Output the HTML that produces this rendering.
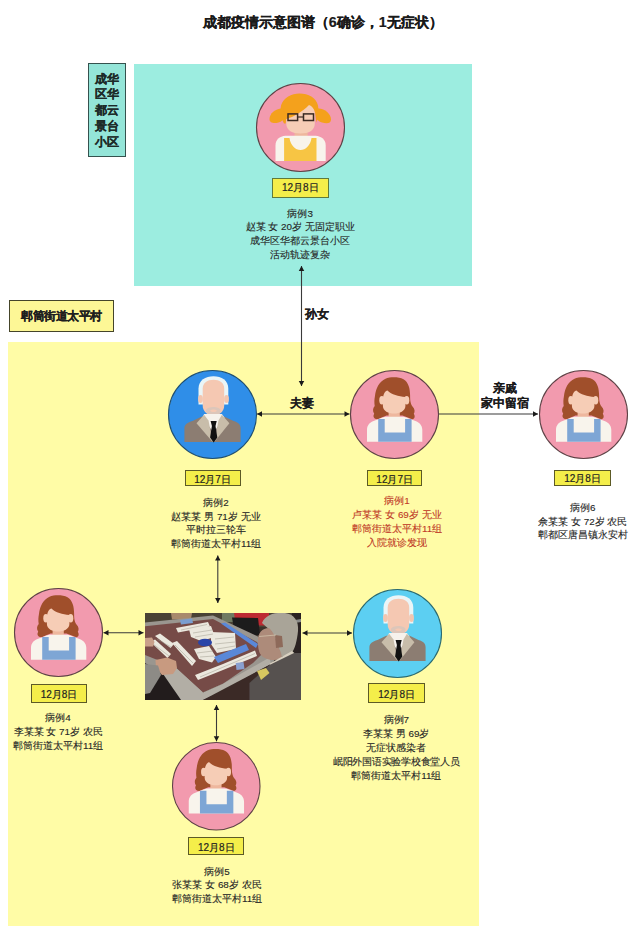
<!DOCTYPE html>
<html><head><meta charset="utf-8"><style>
html,body{margin:0;padding:0;background:#fff;}
body{width:640px;height:928px;position:relative;overflow:hidden;font-family:"Liberation Sans",sans-serif;}
div,svg{position:absolute;}
.title{left:0;top:13px;width:640px;text-align:center;font-size:14.2px;font-weight:bold;-webkit-text-stroke:0.2px #1a1a1a;line-height:18px;color:#1a1a1a;white-space:nowrap;padding-left:5.5px;box-sizing:border-box;}
.teal{left:134px;top:64px;width:338px;height:222px;background:#9cede0;}
.lab1{left:88px;top:63px;width:36px;height:92px;background:#94e5d8;border:1px solid #35524e;font-size:12px;font-weight:bold;line-height:15.8px;text-align:center;color:#1c2a28;box-sizing:content-box;padding-top:7.5px;height:84.5px;-webkit-text-stroke:0.2px #1c2a28;}
.lab2{left:8.5px;top:300px;width:103px;height:30px;background:#fdf796;border:1px solid #45452a;font-size:12px;letter-spacing:-0.5px;padding-left:0.5px;box-sizing:border-box;width:105px;height:32px;font-weight:bold;-webkit-text-stroke:0.2px #1e1e1e;line-height:30px;text-align:center;color:#1e1e1e;}
.yel{left:8px;top:342px;width:471px;height:584px;background:#fffca6;}
.ar{left:0;top:0;}
.av{}
.db{box-sizing:border-box;border:1px solid;font-size:10px;text-align:center;color:#222;white-space:nowrap;-webkit-text-stroke:0.2px #222;}
.tl{text-align:center;white-space:nowrap;}
.lk{-webkit-text-stroke:0.12px #1a1a1a;font-size:12px;font-weight:bold;line-height:14px;color:#1a1a1a;white-space:nowrap;}
</style></head>
<body>

<svg width="0" height="0" style="position:absolute">
<defs>
 <symbol id="woman" overflow="visible">
  <path d="M-8,1 L-17,4.8 C-21,4.5 -21.8,1.5 -20.3,-0.8 C-22,-3 -21.8,-6.5 -19.8,-8.5 C-20.3,-12 -20.2,-15 -19.6,-18 C-18.6,-27 -15,-33 -9,-35.8 C-4,-37.8 4,-37.8 9,-35.3 C14,-32.3 15.6,-26 15.6,-19 C15.6,-13 16.2,-10.5 18.2,-7.8 C20.5,-5.5 20.5,-2.5 19.3,-0.8 C20.8,1.5 20.3,4.3 17.8,4.8 L8,1 Z" fill="#a04f2b"/>
  <rect x="-5.9" y="-5" width="11.2" height="8" fill="#eeb79e"/>
  <ellipse cx="-12.6" cy="-14.3" rx="2.6" ry="4.2" fill="#f6cdb6"/>
  <ellipse cx="12.2" cy="-14.3" rx="2.6" ry="4.2" fill="#f6cdb6"/>
  <path d="M-11.6,-15 C-11.3,-20.5 -9.3,-24 -7,-24 C-3,-20 4,-18 10.9,-17.5 L10.9,-8.5 C10.9,-3.5 5,-1 -0.4,-1 C-6,-1 -11.6,-3.5 -11.6,-8.5 Z" fill="#f6cdb6"/>
  <path d="M-27.5,27.2 L-27.5,15.5 C-27.5,10.5 -24.5,7.5 -19,5.8 C-14,4 -10.5,2.3 -8,2.3 L8,2.3 C10.5,2.3 14,4 19,5.8 C24.5,7.5 27.8,10.5 27.8,15.5 L27.8,27.2 Z" fill="#f8f4ec"/>
  <path d="M-16.3,27.2 L-16.3,4.6 L-9.8,4.6 L-9.8,17.9 L10.6,17.9 L10.6,4.6 L17.1,4.6 L17.1,27.2 Z" fill="#7ea6d5"/>
 </symbol>
 <symbol id="man" overflow="visible">
  <path d="M-14,-10 L-14,-26 C-14,-34 -7,-38.2 1,-38.2 C9,-38.2 15.8,-34 15.8,-26 L15.8,-10 Z" fill="#eaf5f7"/>
  <ellipse cx="-12" cy="-15.6" rx="2.4" ry="4" fill="#f3c6b0"/>
  <ellipse cx="14" cy="-15.6" rx="2.4" ry="4" fill="#f3c6b0"/>
  <path d="M-9.8,-26 C-9.8,-32 -5,-34.8 1,-34.8 C7,-34.8 11.7,-32 11.7,-26 L11.7,-9 C11.7,-3 7,0.8 1,0.8 C-5,0.8 -9.8,-3 -9.8,-9 Z" fill="#f5c8b2"/>
  <path d="M-6.6,-4.5 C-5,-8.5 7,-8.5 8,-4.5 C8,0 4.5,1.8 1,1.8 C-3,1.8 -6.6,0 -6.6,-4.5 Z" fill="#dcc6ba"/>
  <path d="M-2.5,-4 C-1,-5.5 3,-5.5 4.5,-4 C3,-2 -1,-2 -2.5,-4 Z" fill="#f5c8b2"/>
  <path d="M-28.1,27.6 L-28.1,14 C-28.1,10 -25,8 -20,6.5 L-11.25,2.2 L12.2,2.2 L21,6.5 C26,8 28.1,10 28.1,14 L28.1,27.6 Z" fill="#8c7d72"/>
  <path d="M-8.4,-0.6 L9.4,-0.6 L12,3 L1,18 L-10,3 Z" fill="#f6f2ec"/>
  <path d="M-8.4,0.3 L-16,8.75 L0.2,27.6 L-4,6 Z" fill="#c8bdaa"/>
  <path d="M9.4,0.3 L16.9,8.75 L1.8,27.6 L6,6 Z" fill="#c8bdaa"/>
  <path d="M-1.9,6.4 L4.2,6.4 L3,11.6 L4.8,23 L1.2,28 L-2.4,23 L-0.6,11.6 Z" fill="#111"/>
 </symbol>
 <symbol id="girl" overflow="visible">
  <path d="M-6,2 L7.2,2 L7.2,12 L-6,12 Z" fill="#eeb79e"/>
  <path d="M-14.2,-14 C-14.2,-24 -8,-27 0,-27 C8,-27 14.3,-24 14.3,-14 L14.3,-4 C14.3,3 8,6 0,6 C-8,6 -14.2,3 -14.2,-4 Z" fill="#f6cdb6"/>
  <path d="M-16.5,-4 C-20,-10 -21,-16 -19.5,-22 C-17,-30 -9,-34 -1,-34 C8,-34 15.5,-30 17.5,-22 C18.5,-17 18,-10 16,-5 L14.5,-15 C13.5,-19 11.5,-21.5 8.5,-22.5 C2,-16 -7,-10.5 -14.3,-8.5 L-14.8,-4 Z" fill="#f4a11c"/>
  <path d="M-17,-19 C-24,-20 -31,-14.5 -31,-8.5 C-31,-4 -26,-4 -22,-5 C-19,-6 -17,-7.5 -15.5,-10 Z" fill="#f4a11c"/>
  <path d="M16.5,-19 C23.5,-20 30.5,-14 30.5,-8 C30.5,-3.5 25.5,-4 21.5,-5 C18.5,-6 16.5,-7.5 15.5,-10 Z" fill="#f4a11c"/>
  <rect x="-12.5" y="-13.6" width="9.6" height="6.6" fill="none" stroke="#3a2a22" stroke-width="1.5"/>
  <rect x="3" y="-13.6" width="10" height="6.6" fill="none" stroke="#3a2a22" stroke-width="1.5"/>
  <path d="M-3,-10.5 L3,-10.5" stroke="#3a2a22" stroke-width="1.2"/>
  <path d="M-25,33.5 L-25,18 C-25,12 -21,9 -15,8.3 L15,8.3 C21,9 25.2,12 25.2,18 L25.2,33.5 Z" fill="#f8f4ec"/>
  <path d="M-16.4,33.5 L-16.4,10.5 L-11,10.5 C-10,18 -5,22.5 0,22.5 C5,22.5 10,18 11,10.5 L16,10.5 L16,33.5 Z" fill="#f7c544"/>
 </symbol>
</defs>
</svg>

<div class="title">成都疫情示意图谱（6确诊，1无症状）</div><div class="teal"></div><div class="lab1">成华<br>区华<br>都云<br>景台<br>小区</div><div class="lab2">郫筒街道太平村</div><div class="yel"></div><svg class="ar" width="640" height="928" viewBox="0 0 640 928"><line x1="301.5" y1="266" x2="301.5" y2="386" stroke="#3a3a3a" stroke-width="1.1"/><polygon points="301.5,266 298.75,271 304.25,271" fill="#1a1a1a"/><polygon points="301.5,386 298.75,381 304.25,381" fill="#1a1a1a"/><line x1="257" y1="414" x2="349.5" y2="414" stroke="#3a3a3a" stroke-width="1.1"/><polygon points="257,414 262,411.25 262,416.75" fill="#1a1a1a"/><polygon points="349.5,414 344.5,411.25 344.5,416.75" fill="#1a1a1a"/><line x1="438" y1="414" x2="538" y2="414" stroke="#3a3a3a" stroke-width="1.1"/><polygon points="538,414 533,411.25 533,416.75" fill="#1a1a1a"/><line x1="217.8" y1="555.6" x2="217.8" y2="603" stroke="#3a3a3a" stroke-width="1.1"/><polygon points="217.8,555.6 215.05,560.6 220.55,560.6" fill="#1a1a1a"/><polygon points="217.8,603 215.05,598 220.55,598" fill="#1a1a1a"/><line x1="103.5" y1="632.7" x2="143.5" y2="632.7" stroke="#3a3a3a" stroke-width="1.1"/><polygon points="103.5,632.7 108.5,629.95 108.5,635.45" fill="#1a1a1a"/><polygon points="143.5,632.7 138.5,629.95 138.5,635.45" fill="#1a1a1a"/><line x1="302.5" y1="633" x2="352" y2="633" stroke="#3a3a3a" stroke-width="1.1"/><polygon points="302.5,633 307.5,630.25 307.5,635.75" fill="#1a1a1a"/><polygon points="352,633 347,630.25 347,635.75" fill="#1a1a1a"/><line x1="216.5" y1="705" x2="216.5" y2="741.3" stroke="#3a3a3a" stroke-width="1.1"/><polygon points="216.5,705 213.75,710 219.25,710" fill="#1a1a1a"/><polygon points="216.5,741.3 213.75,736.3 219.25,736.3" fill="#1a1a1a"/></svg><svg class="av" style="left:255.0px;top:81.5px" width="91" height="91" viewBox="-45.5 -45.5 91 91"><circle cx="0" cy="0" r="44.0" fill="#f29aae" stroke="#5e4246" stroke-width="1.1"/><use href="#girl"/></svg><svg class="av" style="left:166.7px;top:368.5px" width="91" height="91" viewBox="-45.5 -45.5 91 91"><circle cx="0" cy="0" r="44.0" fill="#2f8ee8" stroke="#1f4f70" stroke-width="1.1"/><use href="#man"/></svg><svg class="av" style="left:348.5px;top:368.5px" width="91" height="91" viewBox="-45.5 -45.5 91 91"><circle cx="0" cy="0" r="44.0" fill="#f29aae" stroke="#5e4246" stroke-width="1.1"/><use href="#woman"/></svg><svg class="av" style="left:537.8px;top:368.5px" width="91" height="91" viewBox="-45.5 -45.5 91 91"><circle cx="0" cy="0" r="44.0" fill="#f29aae" stroke="#5e4246" stroke-width="1.1"/><use href="#woman"/></svg><svg class="av" style="left:13.0px;top:587.0px" width="91" height="91" viewBox="-45.5 -45.5 91 91"><circle cx="0" cy="0" r="44.0" fill="#f29aae" stroke="#5e4246" stroke-width="1.1"/><use href="#woman"/></svg><svg class="av" style="left:351.5px;top:587.5px" width="91" height="91" viewBox="-45.5 -45.5 91 91"><circle cx="0" cy="0" r="44.0" fill="#5ccff2" stroke="#2a6a70" stroke-width="1.1"/><use href="#man"/></svg><svg class="av" style="left:171.25px;top:740.75px" width="90.5" height="90.5" viewBox="-45.25 -45.25 90.5 90.5"><circle cx="0" cy="0" r="43.75" fill="#f29aae" stroke="#5e4246" stroke-width="1.1"/><use href="#woman"/></svg>
<svg class="ph" style="left:145px;top:613px" width="156" height="87" viewBox="0 0 156 87">
 <defs><filter id="bl" x="0" y="0" width="1" height="1"><feGaussianBlur stdDeviation="0.6"/></filter></defs>
 <rect width="156" height="87" fill="#3a302a"/>
 <g filter="url(#bl)">
 <rect width="156" height="87" fill="#3a302a"/>
 <rect width="156" height="14" fill="#4a4336"/>
 <path d="M77,0 L90,0 L90,9 L77,9 Z" fill="#6f7a62"/>
 <path d="M26,0 L47,0 L46,6 L27,6.5 Z" fill="#a88a6c"/>
 <path d="M89,0 L124,0 L124,12.5 L91,12.5 Z" fill="#bd2a30"/>
 <path d="M87,4.5 L113,5 L115,22 L90,22 Z" fill="#1f1b1b"/>
 <path d="M0,9.5 L68,2.5 L116,25 L132,40 L128,50 L40,87 L33,87 L17,60 L0,50 Z" fill="#9a968f"/>
 <path d="M0,13.3 L68,6 L112,29 L118,40 L108,50 L78,70.8 L58,79.5 L29,53 L10,46 L0,42 Z" fill="#764c47"/>
 <path d="M17,59.5 L29,53 L58,79.5 L78,70.8 L124.5,44.5 L126,51 L78,78 L58,87 L36,87 Z" fill="#b2aea5"/>
 <path d="M0,57 L17,59.5 L36,87 L0,87 Z" fill="#231f1e"/>
 <path d="M58,87 L126,51 L128,87 Z" fill="#3a2c28"/>
 <g fill="#ebe8de">
  <path d="M31,15 L63,9 L65,13.5 L33,19.5 Z"/>
  <path d="M44,16 L66,13 L70,24 L56,28 L46,24 Z"/>
  <path d="M66,19 L90,20 L91,36 L72,40 L66,31 Z"/>
  <path d="M10,23 L15,20.5 L29,31 L25.5,35 Z"/>
  <path d="M5.5,29 L10,26.5 L26,41 L22.5,45 Z"/>
  <path d="M27,30 L32,28 L51,48 L47,53 Z"/>
  <path d="M49,36 L64,33 L71,44 L67,49.5 L54,46 Z"/>
  <path d="M50,62 L78,51 L110,37.5 L112,43 L78,57 L53,67 Z"/>
 </g>
 <g stroke="#9c988c" stroke-width="0.6" opacity="0.8">
  <path d="M36,17 L62,11.5"/><path d="M12,26 L26,34"/><path d="M8,31 L24,43"/><path d="M30,32 L48,50"/>
  <path d="M48,20 L67,17"/><path d="M50,24 L68,21"/><path d="M70,26 L89,24"/><path d="M70,31 L90,29"/><path d="M72,36 L90,33"/>
  <path d="M52,40 L68,38"/><path d="M55,44 L69,43"/><path d="M55,64 L110,40.5"/>
 </g>
 <path d="M76,10.5 L80,9.5 L113,31 L111,35 Z" fill="#5a88d8"/>
 <path d="M69,44 L101,31 L104,37 L73,50 Z" fill="#5a88d8"/>
 <path d="M35,7 L47,5.5 L48,10 L36,11.5 Z" fill="#7a9ed0"/>
 <path d="M90.7,50 L98.5,49 L99.5,56 L91.5,57 Z" fill="#8aa0d0"/>
 <ellipse cx="60" cy="29.5" rx="7" ry="3.8" fill="#2a44a8"/>
 <path d="M0,25 L7,24.5 L9.5,29 L8,33.5 L0,33.5 Z" fill="#c9a08a"/>
 <path d="M10.5,47 L22,44.5 L31,48 L32,55 L28,61 L17,62 L11,55 Z" fill="#c89a80"/>
 <path d="M0,51 L13,52.5 L16,62 L5,80 L0,81 Z" fill="#8d8b86"/>
 <path d="M147,0 L156,0 L156,40 L147,40 Z" fill="#2a2420"/>
 <path d="M150,7 L156,6 L156,9 L150,10 Z" fill="#8a8a88"/>
 <path d="M117,10 C120,2 130,-1 140,0 C149,1 154,8 153,18 C152,28 150,36 146,41 L136,44 C134,36 131,26 126,18 Z" fill="#a9a498"/>
 <path d="M113,27 C113,20 117,15 124,15 C129,19 131,27 133,33 C135,38 138,42 136,46 C129,48 120,47 116,42 C113,38 113,32 113,27 Z" fill="#ad8b7a"/>
 <path d="M130,22 L137,23 L138,34 L131,35 Z" fill="#8e6a5a"/>
 <path d="M114,23.5 L131,22" stroke="#d0c2aa" stroke-width="0.8"/>
 <path d="M124.5,50.8 L147,38 L150,40.5 L127,54 Z" fill="#d8d0c0"/>
 <path d="M104.5,87 L104.5,70 L124.5,52 L149,40 L156,40 L156,87 Z" fill="#575150"/>
 <path d="M112,58 L121,55 L124.5,60 L116,67 Z" fill="#d8c860"/>
 </g>
</svg>
<div class="db" style="left:272px;top:178px;width:56.69999999999999px;height:19.5px;border-color:#5f7a3c;background:#f4ee4a;line-height:17.5px;padding-top:0.2px">12月8日</div><div class="db" style="left:184.5px;top:470px;width:56.19999999999999px;height:16.19999999999999px;border-color:#5c5a26;background:#f4ee4a;line-height:14.199999999999989px;padding-top:1.5px">12月7日</div><div class="db" style="left:367px;top:470.2px;width:55.39999999999998px;height:16.0px;border-color:#5c5a26;background:#f4ee4a;line-height:14.0px;padding-top:1.5px">12月7日</div><div class="db" style="left:554px;top:469.5px;width:57px;height:16.69999999999999px;border-color:#5c5a26;background:#f4ee4a;line-height:14.699999999999989px;padding-top:1.5px">12月8日</div><div class="db" style="left:368px;top:683px;width:57.30000000000001px;height:20px;border-color:#5c5a26;background:#f4ee4a;line-height:18px;padding-top:1.5px">12月8日</div><div class="db" style="left:31px;top:684px;width:56px;height:18.5px;border-color:#5c5a26;background:#f4ee4a;line-height:16.5px;padding-top:1.5px">12月8日</div><div class="db" style="left:188.3px;top:837px;width:56.099999999999994px;height:18.299999999999955px;border-color:#5c5a26;background:#f4ee4a;line-height:16.299999999999955px;padding-top:1.5px">12月8日</div><div class="lk" style="left:305px;top:307px">孙女</div><div class="lk" style="left:289.5px;top:395.5px">夫妻</div><div class="lk" style="left:469.5px;top:380.5px;width:70px;text-align:center;line-height:15.5px">亲戚<br>家中留宿</div><div class="tl" style="left:220.2px;top:206.5px;width:160px;line-height:13.9px;font-size:9.85px;color:#262626;-webkit-text-stroke:0.12px #262626">病例3<br>赵某 女 20岁 无固定职业<br>成华区华都云景台小区<br>活动轨迹复杂</div><div class="tl" style="left:136.0px;top:496.3px;width:160px;line-height:13.6px;font-size:9.85px;color:#262626;-webkit-text-stroke:0.12px #262626">病例2<br>赵某某 男 71岁 无业<br>平时拉三轮车<br>郫筒街道太平村11组</div><div class="tl" style="left:317.0px;top:494.3px;width:160px;line-height:14px;font-size:9.85px;color:#c03a28;-webkit-text-stroke:0.12px #c03a28">病例1<br>卢某某 女 69岁 无业<br>郫筒街道太平村11组<br>入院就诊发现</div><div class="tl" style="left:502.79999999999995px;top:501.3px;width:160px;line-height:13.5px;font-size:9.85px;color:#262626;-webkit-text-stroke:0.12px #262626">病例6<br>佘某某 女 72岁 农民<br>郫都区唐昌镇永安村</div><div class="tl" style="left:-21.9px;top:711.3px;width:160px;line-height:13.9px;font-size:9.85px;color:#262626;-webkit-text-stroke:0.12px #262626">病例4<br>李某某 女 71岁 农民<br>郫筒街道太平村11组</div><div class="tl" style="left:316.3px;top:713px;width:160px;line-height:14.05px;font-size:9.85px;color:#262626;-webkit-text-stroke:0.12px #262626">病例7<br>李某某 男 69岁<br>无症状感染者<br><span style="letter-spacing:-0.25px">岷阳外国语实验学校食堂人员</span><br>郫筒街道太平村11组</div><div class="tl" style="left:137.0px;top:864.8px;width:160px;line-height:13.55px;font-size:9.85px;color:#262626;-webkit-text-stroke:0.12px #262626">病例5<br>张某某 女 68岁 农民<br>郫筒街道太平村11组</div>
</body></html>
